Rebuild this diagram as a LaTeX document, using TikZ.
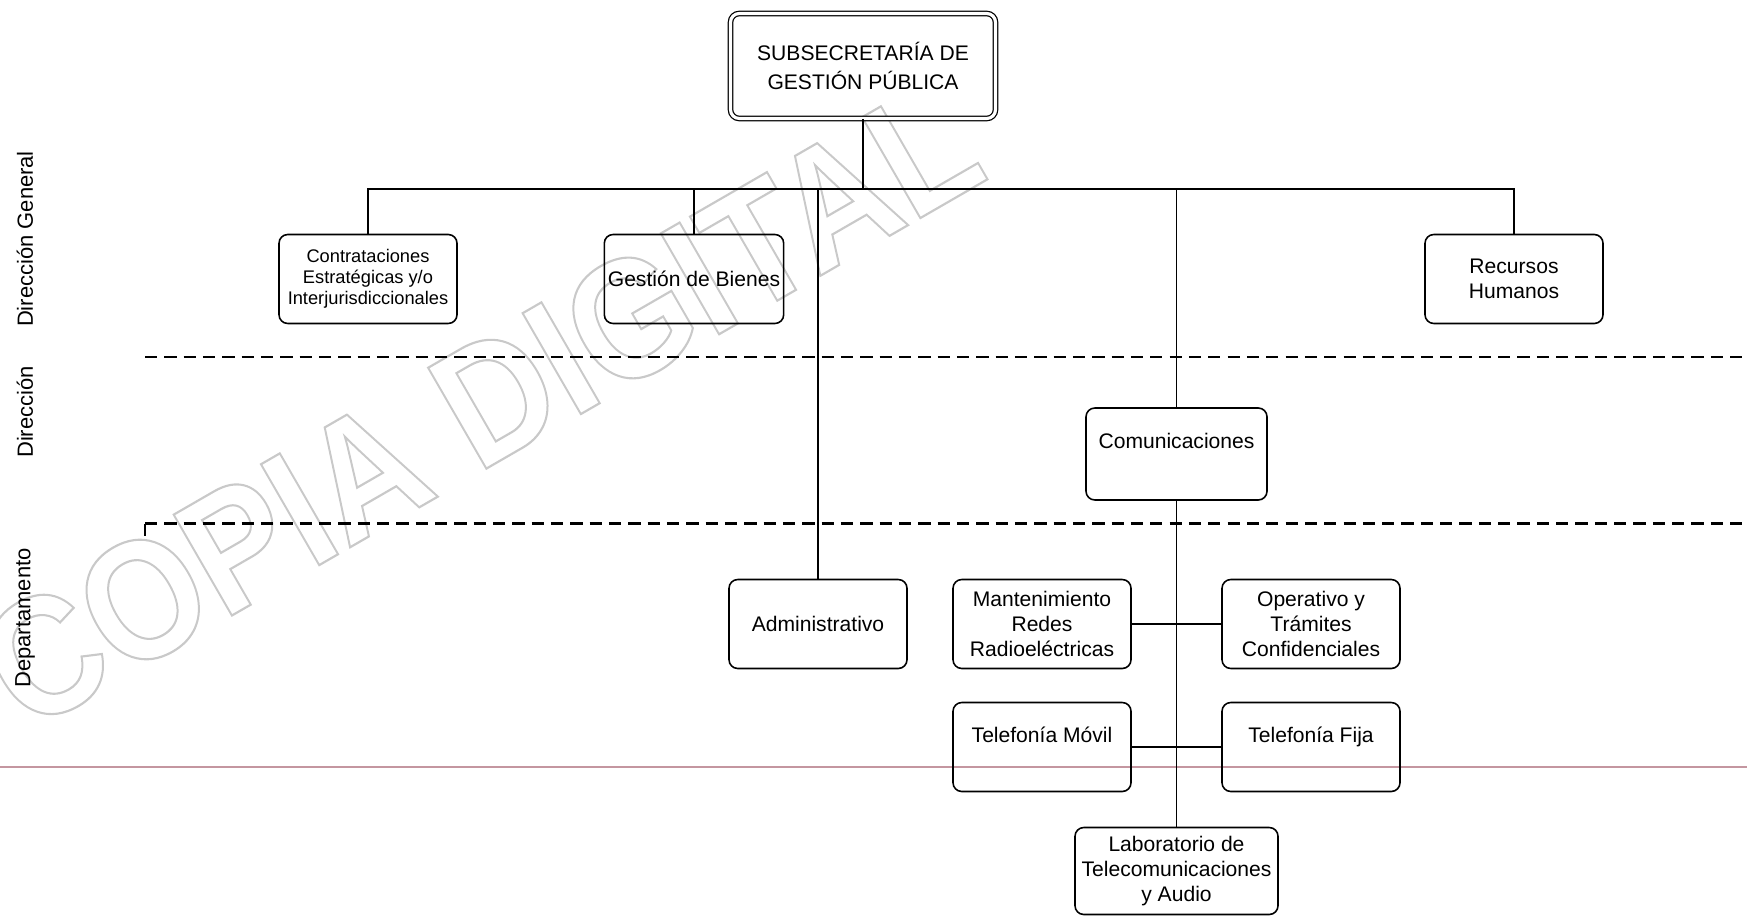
\documentclass[tikz,border=0pt]{standalone}
\usepackage{fontspec}
\setmainfont{Liberation Sans}
\usetikzlibrary{positioning}

\definecolor{scanline}{RGB}{196,150,160}

\newcommand{\outlined}[1]{\special{pdf:literal direct 1 Tr 1.1 w}#1\special{pdf:literal direct 0 Tr}}

\tikzset{
  box/.style={draw, rounded corners=5pt, line width=0.9pt, align=center,
    minimum width=3.56cm, minimum height=1.78cm, inner sep=2pt,
    font=\fontsize{12}{14.4}\selectfont},
  topbox/.style={box, double, double distance=1.8pt, line width=0.7pt,
    minimum width=5.3cm, minimum height=2.1cm, font=\fontsize{12}{16}\selectfont},
  link/.style={line width=0.7pt},
  level/.style={dash pattern=on 7pt off 4pt, line width=1.2pt},
  side/.style={rotate=90, font=\fontsize{12.5}{15}\selectfont},
  wmark/.style={rotate=30, yscale=1.12, text=gray!42, font=\fontsize{86}{90}\bfseries\selectfont},
}

\begin{document}
\begin{tikzpicture}[node distance=2cm, on grid]
  \useasboundingbox (0,0) rectangle (34.94,-18.34);

  % watermark
  \node[wmark] (wm) at (9.6,-8.1) {\outlined{COPIA DIGITAL}};

  \draw[scanline, line width=1.4pt] (0,-15.34) -- (34.94,-15.34);

  % levels
  \draw[level] (2.9,-7.14) -- (34.94,-7.14);
  \draw[level] (2.9,-10.47) -- (34.94,-10.47);
  \draw[line width=1pt] (2.9,-10.47) -- (2.9,-10.72);
  \node[side] (dg) at (0.5,-4.78) {Dirección General};
  \node[side] (dir) at (0.5,-8.24) {Dirección};
  \node[side] (dep) at (0.5,-12.36) {Departamento};

  \node[topbox] (sub) at (17.26,-1.32) {SUBSECRETARÍA DE\\GESTIÓN PÚBLICA};
  \node[box, below left=4.26cm and 9.9cm of sub, font=\fontsize{10.4}{12}\selectfont] (cont)
    {Contrataciones\\Estratégicas y/o\\Interjurisdiccionales};
  \node[box, below left=4.26cm and 3.38cm of sub] (bien) {Gestión de Bienes};
  \node[box, below right=4.26cm and 13.02cm of sub] (rrhh) {Recursos\\Humanos};
  \node[box, minimum width=3.62cm, minimum height=1.84cm,
    below right=7.76cm and 6.27cm of sub] (com) {Comunicaciones\\~};
  \node[box, below left=11.16cm and 0.9cm of sub] (adm) {Administrativo};
  \node[box, below left=3.4cm and 2.69cm of com] (mant) {Mantenimiento\\Redes\\Radioeléctricas};
  \node[box, below right=3.4cm and 2.69cm of com] (oper) {Operativo y\\Trámites\\Confidenciales};
  \node[box, below=2.46cm of mant] (movil) {Telefonía Móvil\\~};
  \node[box, below=2.46cm of oper] (fija) {Telefonía Fija\\~};
  \node[box, minimum width=4.06cm, minimum height=1.74cm, below=8.34cm of com] (lab)
    {Laboratorio de\\Telecomunicaciones\\y Audio};

  % connectors
  \coordinate (bus) at (0,-3.78);
  \draw[link] (sub.south) -- (sub.south |- bus);
  \draw[link] (cont.north) |- (rrhh.north |- bus) -- (rrhh.north);
  \draw[link] (bien.north) -- (bien.north |- bus);
  \draw[link] (adm.north) -- (adm.north |- bus);
  \draw[link] (com.north) -- (com.north |- bus);
  \draw[link] (com.south) -- (lab.north);
  \draw[link] (mant.east) -- (oper.west);
  \draw[link] (movil.east) -- (fija.west);
\end{tikzpicture}
\end{document}
